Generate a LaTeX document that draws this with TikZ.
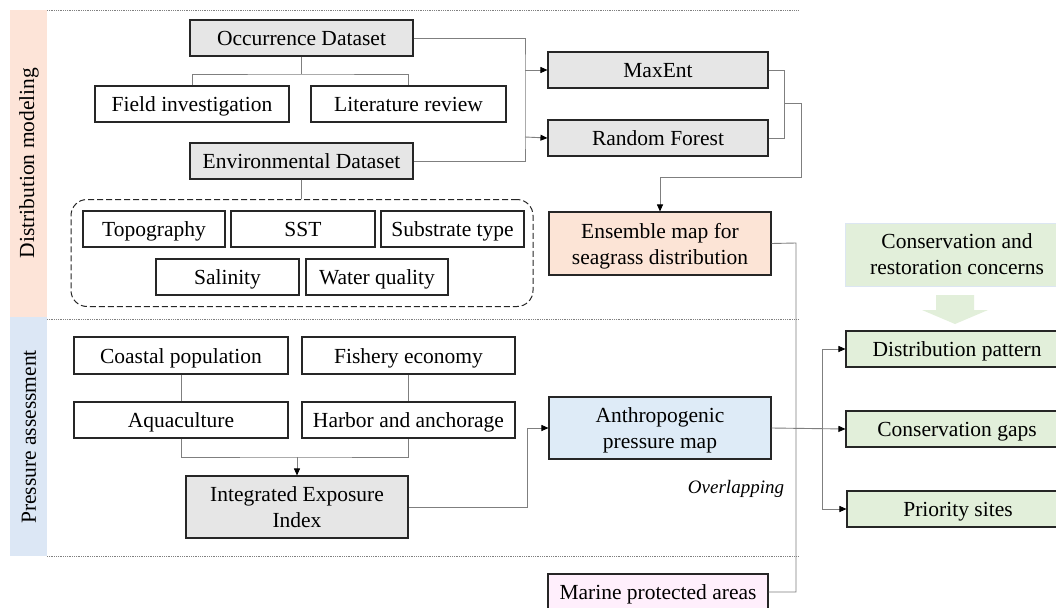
\documentclass[tikz,border=0pt]{standalone}
\usepackage{fontspec}
\setmainfont{Liberation Serif}
\usetikzlibrary{arrows.meta}
\definecolor{grayfill}{HTML}{E6E6E6}
\definecolor{peach}{HTML}{FCE4D6}
\definecolor{bandorange}{HTML}{FDE4D8}
\definecolor{bluefill}{HTML}{DEEBF7}
\definecolor{bandblue}{HTML}{DCE7F5}
\definecolor{greenfill}{HTML}{E2EFDA}
\definecolor{pinkfill}{HTML}{FFEFFC}
\definecolor{edge}{HTML}{262626}
\definecolor{wire}{HTML}{7F7F7F}
\definecolor{faintblue}{HTML}{DCE6F2}
\tikzset{
  bx/.style={draw=edge, line width=1.1pt, rectangle, inner sep=0pt, align=center,
    font=\fontsize{21.5}{26}\selectfont, text=black},
  sl/.style={text height=16pt, text depth=1pt},
  ml/.style={text depth=0pt},
  gbx/.style={bx, fill=grayfill},
  wirestyle/.style={draw=wire, line width=0.9pt},
  arr/.style={wirestyle, -{Triangle[length=7pt,width=6pt,color=black]}},
  sep/.style={draw=gray, line width=0.8pt, densely dotted},
  bandtxt/.style={rotate=90, font=\fontsize{21.5}{24}\selectfont},
}
\begin{document}
\begin{tikzpicture}[x=1pt,y=-1pt]
\clip (0,0) rectangle (1056,607);
\fill[white] (0,0) rectangle (1056,607);
% bands
\fill[bandorange] (10,10) rectangle (47,317);
\fill[bandblue] (10,317) rectangle (47,556);
\node[bandtxt] (bandA) at (29,163) {Distribution modeling};
\node[bandtxt] (bandB) at (29,437) {Pressure assessment};
% separators
\draw[sep] (47,10) -- (798,10);
\draw[sep] (47,319) -- (798,319);
\draw[sep] (47,556) -- (798,556);
% distribution modeling
\node[gbx, sl, minimum width=223pt, minimum height=36pt] (occ) at (301.5,38) {Occurrence Dataset};
\node[bx, sl, minimum width=194pt, minimum height=36pt] (field) at (192,104) {Field investigation};
\node[bx, sl, minimum width=195pt, minimum height=36pt] (lit) at (408.5,104) {Literature review};
\node[gbx, sl, minimum width=223pt, minimum height=36pt] (env) at (301.5,161) {Environmental Dataset};
\node[draw=edge, line width=1pt, dash pattern=on 6pt off 3pt, rounded corners=16pt,
      minimum width=462pt, minimum height=107pt, inner sep=0pt] (envgrp) at (302,253) {};
\node[bx, sl, minimum width=142pt, minimum height=36pt] (topo) at (154,229) {Topography};
\node[bx, sl, minimum width=144pt, minimum height=36pt] (sst) at (303,229) {SST};
\node[bx, sl, minimum width=143pt, minimum height=36pt] (sub) at (452.5,229) {Substrate type};
\node[bx, sl, minimum width=143pt, minimum height=36pt] (sal) at (227.5,277) {Salinity};
\node[bx, sl, minimum width=142pt, minimum height=36pt] (wq) at (377,277) {Water quality};
\node[gbx, sl, minimum width=220pt, minimum height=36pt] (maxent) at (658,70) {MaxEnt};
\node[gbx, sl, minimum width=220pt, minimum height=36pt] (rf) at (658,138) {Random Forest};
\node[bx, ml, fill=peach, minimum width=222pt, minimum height=63pt] (ens) at (660,243.5) {Ensemble map for\\seagrass distribution};
% pressure assessment
\node[bx, sl, minimum width=214pt, minimum height=37pt] (coast) at (181,355.5) {Coastal population};
\node[bx, sl, minimum width=213pt, minimum height=37pt] (fish) at (408.5,355.5) {Fishery economy};
\node[bx, sl, minimum width=214pt, minimum height=36pt] (aqua) at (181,420) {Aquaculture};
\node[bx, sl, minimum width=213pt, minimum height=36pt] (harb) at (408.5,420) {Harbor and anchorage};
\node[gbx, ml, minimum width=222pt, minimum height=62pt] (iei) at (297,507) {Integrated Exposure\\Index};
\node[bx, ml, fill=bluefill, minimum width=222pt, minimum height=62pt] (anth) at (660,428) {Anthropogenic\\pressure map};
\node[bx, sl, fill=pinkfill, minimum width=220pt, minimum height=36pt] (mpa) at (658,592) {Marine protected areas};
\node[font=\fontsize{19}{22}\selectfont\itshape] (ovl) at (736,489) {Overlapping};
% right column
\node[bx, ml, draw=faintblue, line width=0.8pt, fill=greenfill, minimum width=224pt, minimum height=63pt] (conc) at (957,254.5) {Conservation and\\restoration concerns};
\fill[greenfill] (936,295) -- (974,295) -- (974,310) -- (988,310) -- (955,324) -- (922,310) -- (936,310) -- cycle;
\node[bx, sl, fill=greenfill, minimum width=222pt, minimum height=36pt] (dist) at (957,349) {Distribution pattern};
\node[bx, sl, fill=greenfill, minimum width=222pt, minimum height=36pt] (gaps) at (957,429) {Conservation gaps};
\node[bx, sl, fill=greenfill, minimum width=222pt, minimum height=36pt] (prio) at (958,509) {Priority sites};
% coordinates
\coordinate (j1) at (301.5,74);
\coordinate (j2) at (525,70);
\coordinate (j3) at (525,137);
\coordinate (j4) at (784,103);
\coordinate (j5) at (297,457);
\coordinate (j6) at (822,429);
% connectors: occurrence tree
\draw[wirestyle] (occ.south) -- (j1);
\draw[wirestyle] (field.north) |- (j1) -| (lit.north);
\draw[wirestyle] (occ.east) -| (j2) -- (j3) |- (env.east);
\draw[arr] (j2) -- (maxent.west);
\draw[arr] (j3) -- (rf.west);
\draw[wirestyle] (env.south) -- (envgrp.north -| env.south);
% models to ensemble
\draw[wirestyle] (maxent.east) -| (j4) |- (rf.east);
\draw[arr] (j4) -- (801,103) -- (801,177) -| (ens.north);
% ensemble and MPA overlapping line
\draw[wirestyle] (ens.east) -- (796,243) -- (796,592) -- (mpa.east);
% pressure tree
\draw[wirestyle] (coast.south) -- (aqua.north);
\draw[wirestyle] (fish.south) -- (harb.north);
\draw[wirestyle] (aqua.south) |- (j5) -| (harb.south);
\draw[arr] (j5) -- (iei.north);
\draw[arr] (iei.east) -- (527,507) -- (527,428) -- (anth.west);
% outputs
\draw[arr] (anth.east) -- (gaps.west);
\draw[arr] (j6) |- (dist.west);
\draw[arr] (j6) |- (prio.west);
\end{tikzpicture}
\end{document}
